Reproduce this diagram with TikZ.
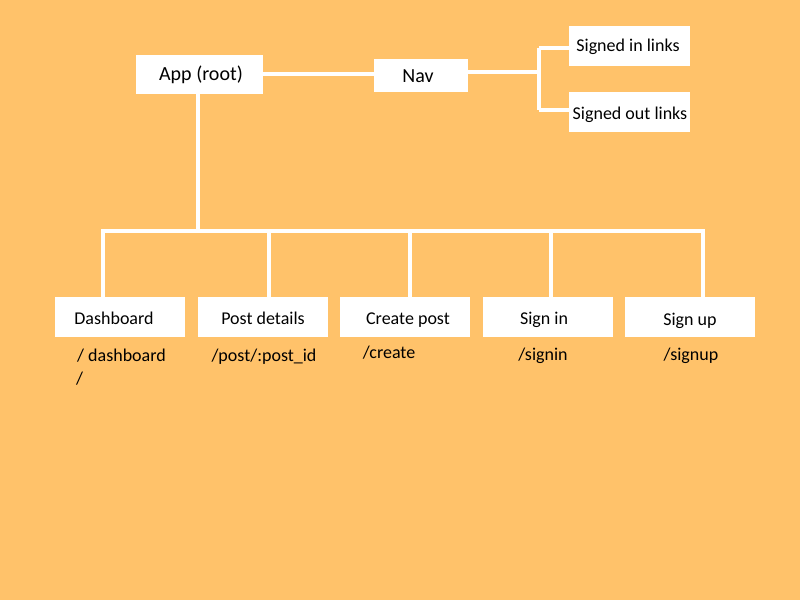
\documentclass[tikz,border=0pt]{standalone}
\usepackage{fontspec}
\setmainfont{Carlito}
\definecolor{bgorange}{RGB}{255,194,106}
\begin{document}
\begin{tikzpicture}[x=1pt,y=-1pt,
  box/.style={fill=white,draw=none,inner sep=0pt,outer sep=0pt,minimum width=#1,minimum height=40pt},
  box/.default=130pt,
  big/.style={font=\fontsize{20}{24}\selectfont,inner sep=0pt,text height=0.7em,text depth=0.25em,yshift=-4pt},
  txt/.style={font=\fontsize{18}{22}\selectfont,inner sep=0pt,text height=0.7em,text depth=0.25em,yshift=-4pt},
  wire/.style={draw=white,line width=3.5pt}]
\fill[bgorange] (0,0) rectangle (800,600);
\useasboundingbox (0,0) rectangle (800,600);
% top boxes
\node[box=127pt,minimum height=39pt] (app) at (199.5,74.5) {};
\node[box=94pt,minimum height=33pt] (nav) at (421,75.5) {};
\node[box=121pt,minimum height=40pt] (sin) at (629.5,46) {};
\node[box=121pt,minimum height=40pt] (sout) at (629.5,112) {};
% bottom boxes
\node[box] (dash) at (120,317) {};
\node[box] (post) at (263,317) {};
\node[box] (create) at (405,317) {};
\node[box] (signin) at (548,317) {};
\node[box] (signup) at (690,317) {};
% junction coordinates
\coordinate (navj) at (539,72);
\coordinate (navt) at (539,48);
\coordinate (navb) at (539,110);
\coordinate (busl) at (103,231);
\coordinate (busr) at (703,231);
\coordinate (appj) at (198,231);
% connectors
\draw[wire] (app.east |- 0,74) -- (nav.west |- 0,74);
\draw[wire] (nav.east |- navj) -- (navj);
\draw[wire] (navt) -- (navb);
\draw[wire] (navt) -- (sin.west |- navt);
\draw[wire] (navb) -- (sout.west |- navb);
\draw[wire] (app.south -| appj) -- (appj);
\draw[wire,line cap=rect] (busl) -- (busr);
\draw[wire] (busl) -- (dash.north -| busl);
\draw[wire] (269,231) -- (post.north -| 269,0);
\draw[wire] (410,231) -- (create.north -| 410,0);
\draw[wire] (551,231) -- (signin.north -| 551,0);
\draw[wire] (busr) -- (signup.north -| busr);
% texts
\node[big] (tapp) at (201,74) {App (root)};
\node[big] (tnav) at (418,76) {Nav};
\node[txt] (tsin) at (628,45) {Signed in links};
\node[txt] (tsout) at (630,113) {Signed out links};
\node[txt] (tdash) at (114,318) {Dashboard};
\node[txt] (tpost) at (263,318) {Post details};
\node[txt] (tcreate) at (408,318) {Create post};
\node[txt] (tsignin) at (544,318) {Sign in};
\node[txt] (tsignup) at (690,319) {Sign up};
\node[txt,anchor=west] (ldash) at (77,355) {/ dashboard};
\node[txt,anchor=west] (ldash2) at (76,378) {/};
\node[txt] (lpost) at (264,355) {/post/:post\_id};
\node[txt] (lcreate) at (389,352) {/create};
\node[txt] (lsignin) at (543,354) {/signin};
\node[txt] (lsignup) at (691,354) {/signup};
\end{tikzpicture}
\end{document}
